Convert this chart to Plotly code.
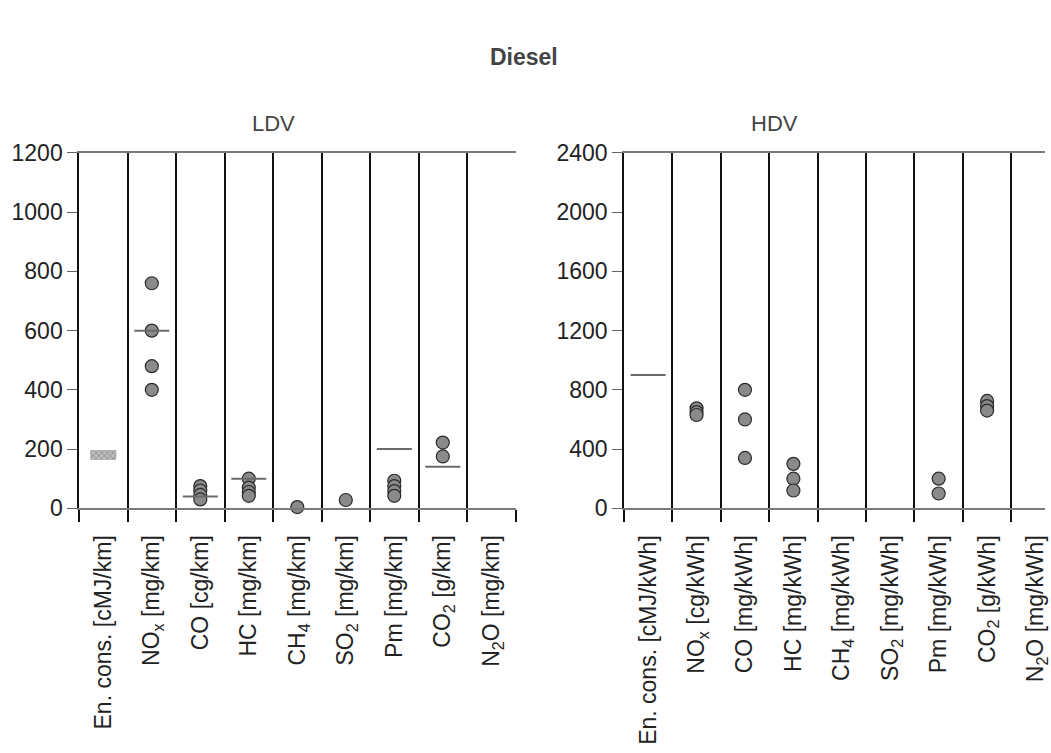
import plotly.graph_objects as go

# ---------------- data ----------------
ldv_keys = ["En", "NOx", "CO", "HC", "CH4", "SO2", "Pm", "CO2", "N2O"]
ldv_labels = ["En. cons. [cMJ/km]", "NO<sub>x</sub> [mg/km]", "CO [cg/km]", "HC [mg/km]",
              "CH<sub>4</sub> [mg/km]", "SO<sub>2</sub> [mg/km]", "Pm [mg/km]",
              "CO<sub>2</sub> [g/km]", "N<sub>2</sub>O [mg/km]"]
hdv_keys = ldv_keys
hdv_labels = ["En. cons. [cMJ/kWh]", "NO<sub>x</sub> [cg/kWh]", "CO [mg/kWh]", "HC [mg/kWh]",
              "CH<sub>4</sub> [mg/kWh]", "SO<sub>2</sub> [mg/kWh]", "Pm [mg/kWh]",
              "CO<sub>2</sub> [g/kWh]", "N<sub>2</sub>O [mg/kWh]"]

# LDV measured values
ldv_points = {
    "NOx": [760, 600, 480, 400],
    "CO": [75, 60, 45, 30],
    "HC": [100, 70, 55, 42],
    "CH4": [4],
    "SO2": [28],
    "Pm": [93, 75, 58, 42],
    "CO2": [222, 175],
}
ldv_encons_low = 165
ldv_encons_high = 195
ldv_ref_keys = ["NOx", "CO", "HC", "Pm", "CO2"]
ldv_ref_vals = [600, 40, 100, 200, 140]

# HDV measured values
hdv_points = {
    "NOx": [675, 650, 630],
    "CO": [800, 600, 340],
    "HC": [300, 200, 120],
    "Pm": [200, 100],
    "CO2": [725, 690, 660],
}
hdv_ref_keys = ["En"]
hdv_ref_vals = [900]

# ---------------- figure ----------------
FONT = "Liberation Sans, Arial, Helvetica, sans-serif"
fig = go.Figure()

marker_style = dict(size=13, color="#8a8a8a", line=dict(color="#2a2a2a", width=1.2))
ref_style = dict(symbol="line-ew", size=25, line=dict(color="#6a6a6a", width=2))


def add_panel(points, ref_keys, ref_vals, keys, xa, ya):
    for k, vals in points.items():
        idx = keys.index(k) + 1
        fig.add_trace(go.Scatter(x=[idx] * len(vals), y=vals, mode="markers",
                                 marker=marker_style, xaxis=xa, yaxis=ya,
                                 cliponaxis=False, showlegend=False))
    fig.add_trace(go.Scatter(x=[keys.index(k) + 1 for k in ref_keys], y=ref_vals,
                             mode="markers", marker=ref_style, xaxis=xa, yaxis=ya,
                             cliponaxis=False, showlegend=False))


# LDV energy consumption band
fig.add_trace(go.Bar(x=[ldv_keys.index("En") + 1], y=[ldv_encons_high - ldv_encons_low],
                     base=[ldv_encons_low], width=0.52,
                     marker=dict(color="#bdbdbd", line=dict(color="#8a8a8a", width=0.5),
                                 pattern=dict(shape="x", fgcolor="#666666", size=4, solidity=0.4)),
                     xaxis="x", yaxis="y", showlegend=False))
add_panel(ldv_points, ldv_ref_keys, ldv_ref_vals, ldv_keys, "x", "y")
add_panel(hdv_points, hdv_ref_keys, hdv_ref_vals, hdv_keys, "x2", "y2")

div_vals = [i + 0.5 for i in range(0, 10)]


def xaxis_cfg(domain, labels, rng):
    return dict(
        domain=domain, range=rng, tickmode="array", tickvals=list(range(1, 10)),
        ticktext=labels, ticks="", tickangle=-90, ticklabelstandoff=16,
        ticklabeloverflow="allow",
        tickfont=dict(family=FONT, size=23, color="#222"),
        showgrid=False, zeroline=False, showline=True, linecolor="#7a7a7a",
        linewidth=1.5, mirror=True, fixedrange=True,
        minor=dict(tickmode="array", tickvals=div_vals, ticks="outside", ticklen=12,
                   tickwidth=1.5, tickcolor="#111", showgrid=True, gridcolor="#111",
                   gridwidth=1.5),
    )


def yaxis_cfg(domain, rng, dtick, anchor):
    return dict(
        domain=domain, range=rng, dtick=dtick, tick0=0, anchor=anchor,
        ticks="outside", ticklen=10, tickwidth=1, tickcolor="#666",
        tickfont=dict(family=FONT, size=23, color="#222"),
        showgrid=False, zeroline=False, showline=True, linecolor="#111",
        linewidth=1.5, fixedrange=True,
    )


W, H = 1051, 753
ydom = [1 - 513 / H, 1 - 145 / H]
fig.update_layout(
    width=W, height=H,
    margin=dict(l=0, r=0, t=0, b=0),
    paper_bgcolor="white", plot_bgcolor="white",
    showlegend=False, barmode="overlay",
    xaxis=dict(**xaxis_cfg([79.5 / W, 518.5 / W], ldv_labels, [0.5, 9.5]), anchor="y"),
    yaxis=yaxis_cfg(ydom, [0, 1200], 200, "x"),
    xaxis2=dict(**xaxis_cfg([627.5 / W, 1.0], hdv_labels, [0.5, 9.196]), anchor="y2"),
    yaxis2=yaxis_cfg(ydom, [0, 2400], 400, "x2"),
    annotations=[
        dict(text="<b>Diesel</b>", x=527 / W, y=1 - 30 / H, xref="paper", yref="paper",
             showarrow=False, font=dict(family=FONT, size=23, color="#444")),
        dict(text="LDV", x=251 / W, y=1 - 99 / H, xref="paper", yref="paper",
             showarrow=False, font=dict(family=FONT, size=22, color="#444")),
        dict(text="HDV", x=805 / W, y=1 - 99 / H, xref="paper", yref="paper",
             showarrow=False, font=dict(family=FONT, size=22, color="#444")),
    ],
)

fig.write_html("out.html")
